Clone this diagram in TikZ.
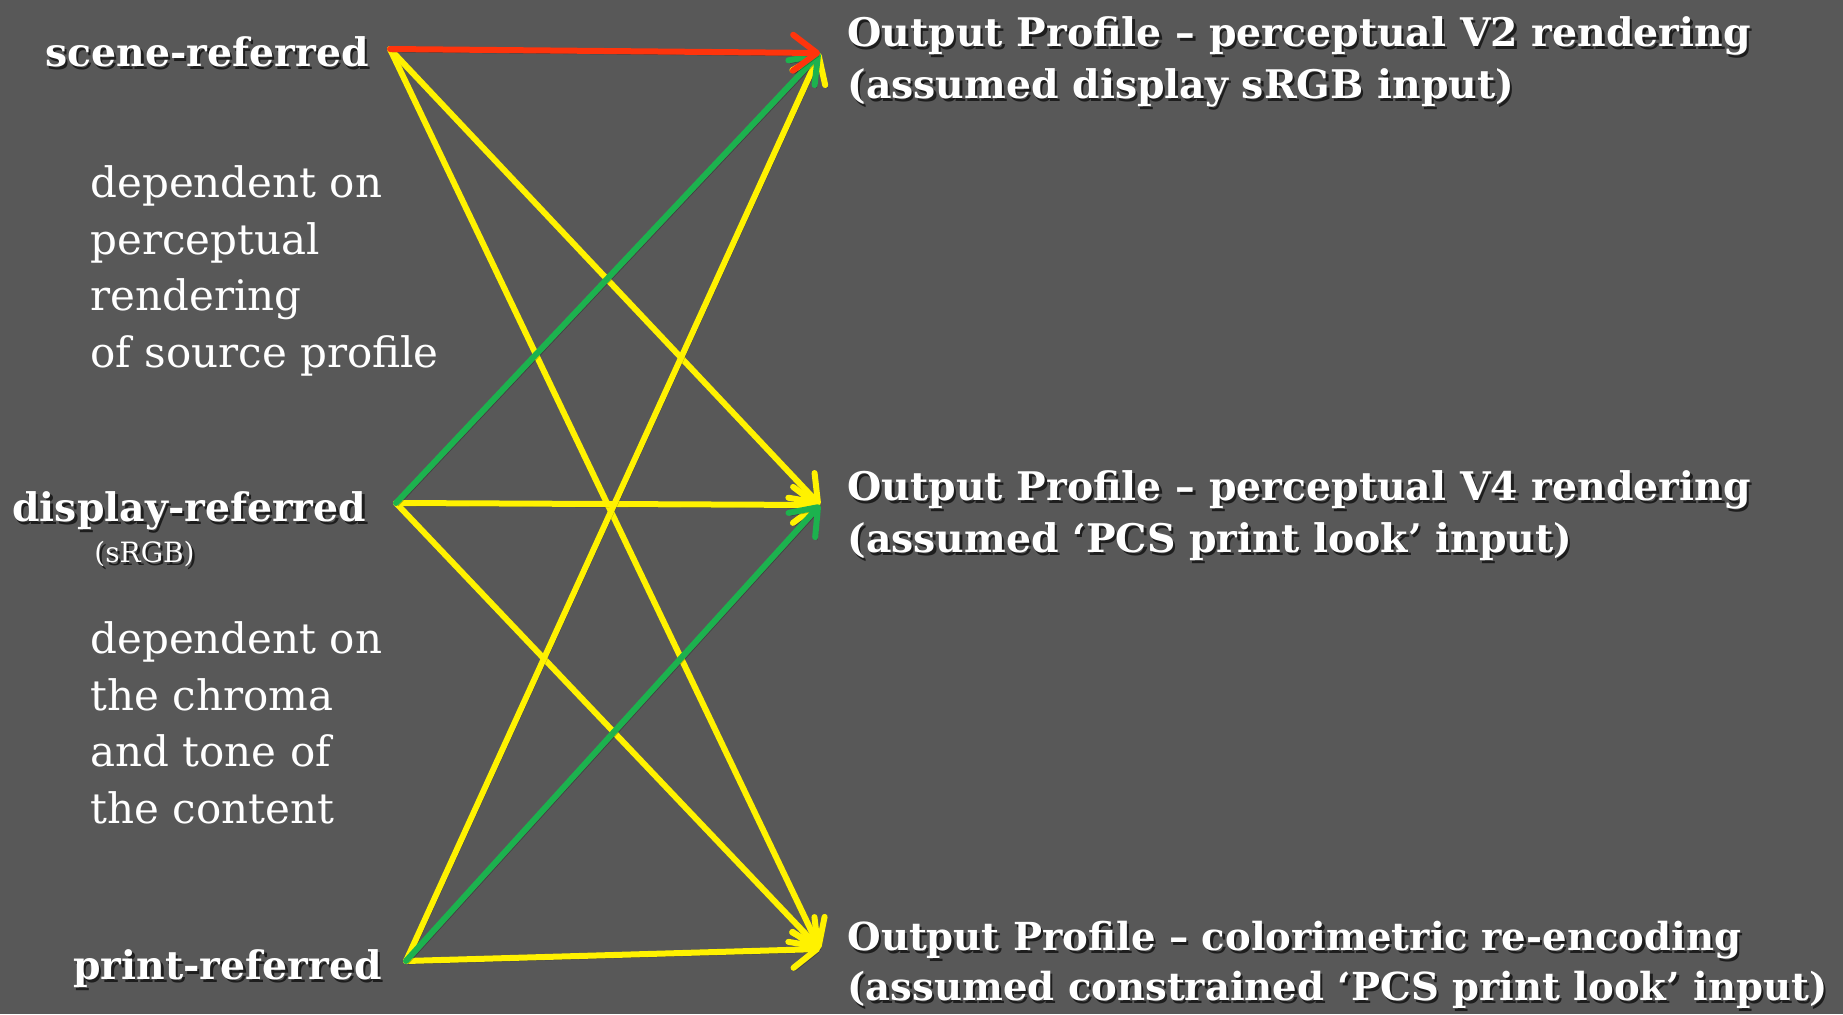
\documentclass[tikz,border=0pt]{standalone}
\usepackage{fontspec}
\setmainfont{DejaVu Serif}
\usetikzlibrary{arrows.meta}
\definecolor{bg}{RGB}{88,88,88}
\definecolor{ared}{RGB}{255,52,12}
\definecolor{ayel}{RGB}{255,242,0}
\definecolor{agrn}{RGB}{28,178,78}
\definecolor{shd}{RGB}{30,30,30}
\newcommand{\shd}[1]{\makebox[0pt][l]{\kern1.2pt\raisebox{-1.6pt}{\textcolor{shd}{#1}}}#1}
\tikzset{
  conn/.style={line width=3pt, line cap=round, line join=round,
    -{Straight Barb[length=12pt,width=18pt,line cap=round,line join=round]},
    preaction={draw=black, draw opacity=0.25, transform canvas={shift={(1pt,-1.5pt)}}}},
  redc/.style={conn, draw=ared},
  yelc/.style={conn, draw=ayel},
  grnc/.style={conn, draw=agrn},
  srclab/.style={text=white, font=\bfseries\fontsize{19.7}{22}\selectfont, inner sep=0pt, anchor=base west},
  outlab/.style={text=white, font=\bfseries\fontsize{19.7}{26}\selectfont, inner sep=0pt, anchor=base west, align=left},
  note/.style={text=white, font=\fontsize{21}{28.2}\selectfont, inner sep=0pt, anchor=base west, align=left},
  small/.style={text=white, font=\fontsize{14}{16}\selectfont, inner sep=0pt, anchor=base west}
}
\begin{document}
\begin{tikzpicture}[x=0.5pt,y=-0.5pt]
\fill[bg] (0,0) rectangle (1843,1014);
\useasboundingbox (0,0) rectangle (1843,1014);

% start and end points
\coordinate (sA) at (390,49);
\coordinate (dA) at (396,503);
\coordinate (pA) at (406,961);
\coordinate (tV2) at (820,53);
\coordinate (tV4) at (820,505);
\coordinate (tC) at (820,949);

% source labels
\node[srclab] (scene) at (45,66) {\shd{scene-referred}};
\node[srclab] (display) at (12,521) {\shd{display-referred}};
\node[small] (srgb) at (94,562) {\shd{(sRGB)}};
\node[srclab] (print) at (73,979) {\shd{print-referred}};

% notes (base anchor = last line)
\node[note] (note1) at (90,367) {dependent on\\perceptual\\rendering\\of source profile};
\node[note] (note2) at (90,823) {dependent on\\the chroma\\and tone of\\the content};

% output labels (base anchor = last line)
\node[outlab] (outV2) at (847,98) {\shd{Output Profile – perceptual V2 rendering}\\\shd{(assumed display sRGB input)}};
\node[outlab] (outV4) at (847,552) {\shd{Output Profile – perceptual V4 rendering}\\\shd{(assumed ‘PCS print look’ input)}};
\node[outlab, font=\bfseries\fontsize{19.3}{25}\selectfont] (outC) at (847,1000) {\shd{Output Profile – colorimetric re-encoding}\\\shd{(assumed constrained ‘PCS print look’ input)}};

% connectors
\draw[yelc] (sA) -- (tV4);
\draw[yelc] (sA) -- (tC);
\draw[yelc] (dA) -- (tV4);
\draw[yelc] (dA) -- (tC);
\draw[yelc] (pA) -- (tV2);
\draw[yelc] (pA) -- (tC);
\draw[grnc] (dA) -- (tV2);
\draw[grnc] (pA) -- (tV4);
\draw[redc] (sA) -- (tV2);
\end{tikzpicture}
\end{document}
